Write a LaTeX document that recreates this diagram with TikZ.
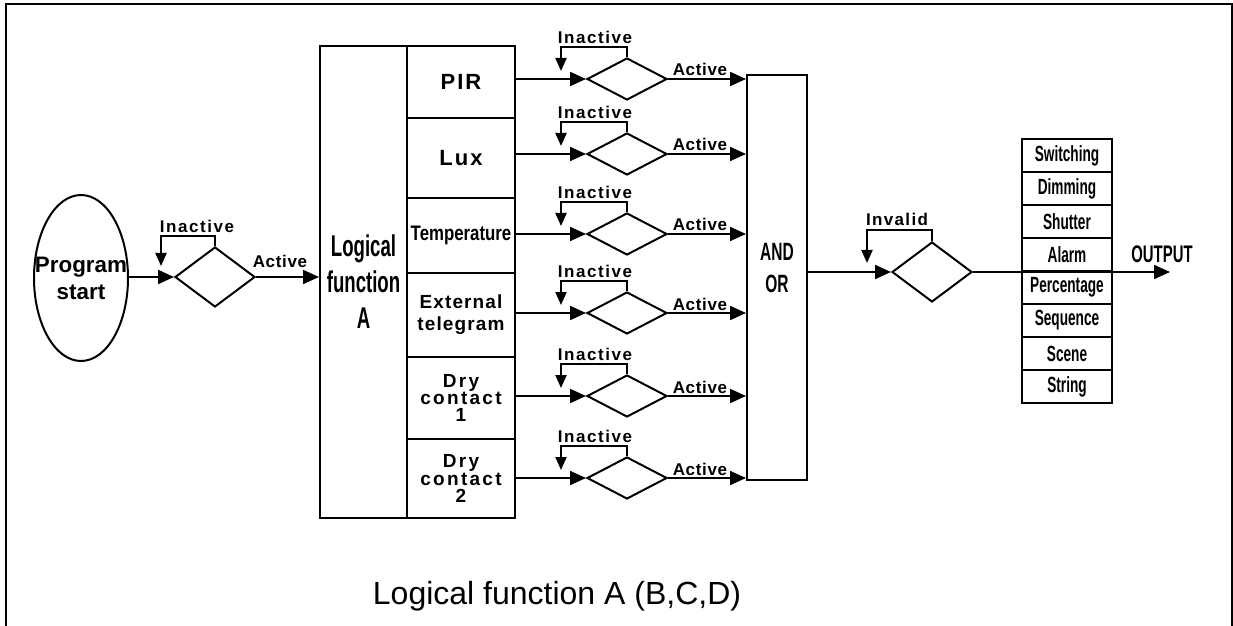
\documentclass[tikz,border=0pt]{standalone}
\usepackage{fontspec}
\setmainfont{Liberation Sans}
\newfontfamily\condfont[FakeStretch=0.62]{Liberation Sans}
\newfontfamily\semicondfont[FakeStretch=0.8]{Liberation Sans}
\usetikzlibrary{shapes.geometric,arrows.meta}
\begin{document}
\begin{tikzpicture}[x=0.5pt,y=-0.5pt,line width=1pt,
  box/.style={draw,rectangle,inner sep=0pt,align=center},
  bigdia/.style={draw,diamond,inner sep=0pt,minimum width=40pt,minimum height=30pt},
  cdia/.style={draw,diamond,inner sep=0pt,minimum width=40pt,minimum height=21pt},
  arr/.style={-{Triangle[length=8pt,width=7pt]}},
  larr/.style={-{Triangle[length=6.5pt,width=5.5pt]}},
  inlab/.style={inner sep=0pt,font=\bfseries\fontsize{8.5}{10}\selectfont\addfontfeature{LetterSpace=9}},
  actlab/.style={inner sep=0pt,anchor=base,font=\bfseries\fontsize{8.5}{10}\selectfont\addfontfeature{LetterSpace=4}},
  wide/.style={font=\bfseries\fontsize{11}{12}\selectfont\addfontfeature{LetterSpace=9}},
  mid/.style={font=\bfseries\fontsize{9.5}{11}\selectfont\addfontfeature{LetterSpace=6}},
  dry/.style={font=\bfseries\fontsize{9.5}{8.6}\selectfont\addfontfeature{LetterSpace=12}},
  cond/.style={font=\condfont\bfseries\fontsize{#1}{#1}\selectfont},
  stackbox/.style={box,minimum width=45pt,minimum height=16.5pt,cond=11}
]
\useasboundingbox (0,0) rectangle (1233,626);
% frame
\draw (6,626) -- (6,4.5) -- (1232,4.5) -- (1232,626);

% program start
\node[draw,ellipse,inner sep=0pt,minimum width=47pt,minimum height=83pt,align=center,
      font=\bfseries\fontsize{11.2}{13.5}\selectfont] (start) at (81,278)
      {\makebox[0pt]{Program}\\\makebox[0pt]{start}};
\node[bigdia] (d0) at (215,277) {};
\draw[arr] (start.east |- d0.west) -- (d0.west);
\draw[larr] (d0.north) -- ++(0,-10) -- ++(-54,0) -- ++(0,30);
\node[inlab] (in0) at (197,226) {Inactive};
\node[actlab] (ac0) at (280,268) {Active};

% logical function block
\node[box,minimum width=43.5pt,minimum height=236pt,font=\condfont\bfseries\fontsize{15}{18}\selectfont] (logic) at (363.5,282) {Logical\\function\\A};
\draw[arr] (d0.east) -- (d0.east -| logic.west);

% input boxes
\node[box,minimum width=54pt,minimum height=36pt,wide] (pir) at (461,82) {PIR};
\node[box,minimum width=54pt,minimum height=40pt,wide] (lux) at (461,158) {Lux};
\node[box,minimum width=54pt,minimum height=37.5pt,font=\semicondfont\bfseries\fontsize{10.5}{12}\selectfont] (temp) at (461,235.5) {Temperature};
\node[box,minimum width=54pt,minimum height=42pt,mid] (ext) at (461,315) {External\\telegram};
\node[box,minimum width=54pt,minimum height=41pt,dry] (dry1) at (461,398) {Dry\\contact\\1};
\node[box,minimum width=54pt,minimum height=39.5pt,dry] (dry2) at (461,478.5) {Dry\\contact\\2};

% AND / OR block
\node[box,minimum width=30pt,minimum height=202.5pt] (andor) at (777,277.5) {};
\node[align=center,inner sep=0pt,font=\condfont\bfseries\fontsize{12.5}{16}\selectfont] (andorlbl) at (777,268) {AND\\OR};

% condition rows
\foreach \n/\y/\b in {1/79/pir,2/154/lux,3/234/temp,4/313/ext,5/396/dry1,6/478/dry2} {
  \node[cdia] (d\n) at (627,\y) {};
  \draw[arr] (\b.east |- d\n.west) -- (d\n.west);
  \draw[larr] (d\n.north) -- ++(0,-10) -- ++(-66,0) -- ++(0,24);
  \node[inlab] (in\n) at (595,\y-42) {Inactive};
  \node[actlab] (ac\n) at (700,\y-3) {Active};
  \draw[arr] (d\n.east) -- (d\n.east -| andor.west);
}

% output decision
\node[bigdia] (od) at (932,272) {};
\draw[arr] (andor.east |- od.west) -- (od.west);
\draw[larr] (od.north) -- ++(0,-11) -- ++(-65,0) -- ++(0,33);
\node[inlab,font=\bfseries\fontsize{8.5}{10}\selectfont\addfontfeature{LetterSpace=8}] (inv) at (897,219) {Invalid};

% output stack
\foreach \i/\t in {1/Switching,2/Dimming,3/Shutter,4/Alarm,5/Percentage,6/Sequence,7/Scene,8/String} {
  \node[stackbox] (s\i) at (1067,{155.5+33*(\i-1)}) {\t};
}
\coordinate (out) at (1170,272);
\draw[arr] (od.east) -- (out);
\node[inner sep=0pt,font=\condfont\bfseries\fontsize{12}{12}\selectfont] (outlbl) at (1162,254) {OUTPUT};

% caption
\node[anchor=base,inner sep=0pt,font=\fontsize{16}{18}\selectfont] (caption) at (557,604) {Logical function A (B,C,D)};
\end{tikzpicture}
\end{document}
